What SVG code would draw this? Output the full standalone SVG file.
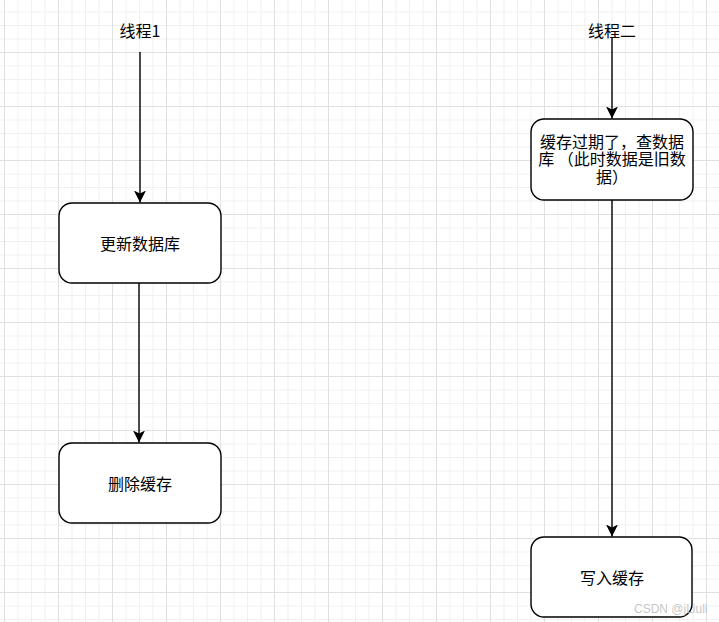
<svg xmlns="http://www.w3.org/2000/svg" width="719" height="622" viewBox="0 0 719 622">
<defs>
<style>
.box{fill:#fff;stroke:#000;stroke-width:1.4}
.edge{stroke:#000;stroke-width:1.4;fill:none}
.t{font-family:"Noto Sans CJK SC","Liberation Sans",sans-serif;font-size:16px;fill:#000;text-anchor:middle;dominant-baseline:central}
.m{font-family:"Noto Sans CJK SC","Liberation Sans",sans-serif;font-size:16px;fill:#000;text-anchor:middle}
</style>
<pattern id="minor" x="4" y="-2" width="13.5" height="13.5" patternUnits="userSpaceOnUse">
<path d="M0 0.5H13.5M0.5 0V13.5" stroke="#f0f0f0" stroke-width="1" fill="none"/>
</pattern>
<pattern id="major" x="4" y="-2" width="54" height="54" patternUnits="userSpaceOnUse">
<path d="M0 0.5H54M0.5 0V54" stroke="#e0e0e0" stroke-width="1" fill="none"/>
</pattern>
<marker id="arr" viewBox="0 0 12 12" refX="12" refY="6" markerWidth="12" markerHeight="12" markerUnits="userSpaceOnUse" orient="auto">
<path d="M0 0L12 6L0 12L3 6Z" fill="#000"/>
</marker>
</defs>
<rect width="719" height="622" fill="#fff"/>
<rect width="719" height="622" fill="url(#minor)"/>
<rect width="719" height="622" fill="url(#major)"/>
<g id="connectors">
<line class="edge" x1="140" y1="52" x2="140" y2="202.5" marker-end="url(#arr)"/>
<line class="edge" x1="139" y1="283" x2="139" y2="442.5" marker-end="url(#arr)"/>
<line class="edge" x1="612" y1="38" x2="612" y2="118.5" marker-end="url(#arr)"/>
<line class="edge" x1="612" y1="200" x2="612" y2="536.5" marker-end="url(#arr)"/>
</g>
<g id="thread1">
<text class="t" x="140" y="30">线程1</text>
</g>
<g id="thread2">
<text class="t" x="612" y="30">线程二</text>
</g>
<g id="update-db">
<rect class="box" x="59" y="203" width="162" height="80" rx="13"/>
<text class="t" x="140" y="243">更新数据库</text>
</g>
<g id="delete-cache">
<rect class="box" x="59" y="443" width="162" height="80" rx="13"/>
<text class="t" x="140" y="483">删除缓存</text>
</g>
<g id="query-db">
<rect class="box" x="531" y="119" width="162" height="81" rx="13"/>
<text class="m" x="612" y="147.5"><tspan x="612">缓存过期了，查数据</tspan><tspan x="612" dy="17.5">库 （此时数据是旧数</tspan><tspan x="612" dy="17.5">据）</tspan></text>
</g>
<g id="write-cache">
<rect class="box" x="531" y="537" width="161" height="80" rx="13"/>
<text class="t" x="612" y="577">写入缓存</text>
</g>
<text x="634" y="613" font-family="'Liberation Sans',sans-serif" font-size="12" fill="#bbbbbb" fill-opacity="0.85">CSDN @jLiuli</text>
</svg>
